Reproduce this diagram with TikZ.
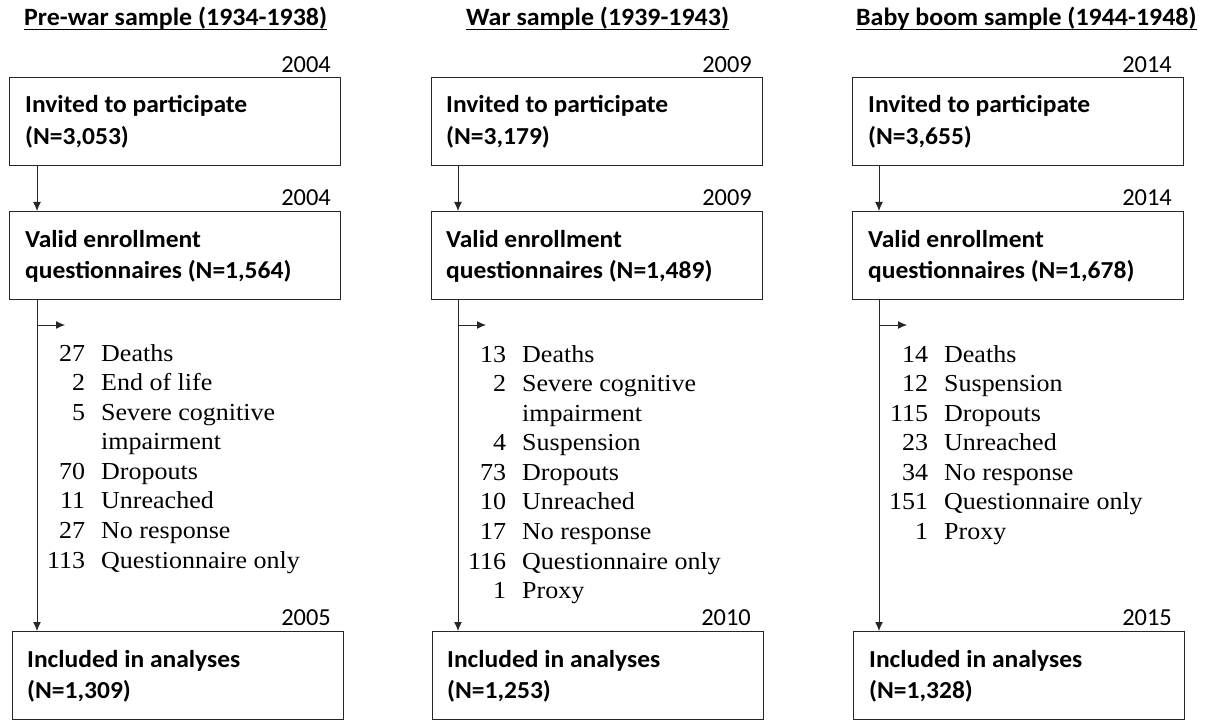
\documentclass[tikz,border=0pt]{standalone}
\usepackage{fontspec}
\setmainfont{Liberation Serif}[FakeStretch=1.065]
\newfontfamily\calfont{Carlito}
\newfontfamily\calboxfont{Carlito}[FakeStretch=1.045]
\newfontfamily\caltitlefont{Carlito}[FakeStretch=1.04]
\usetikzlibrary{arrows.meta}
\begin{document}
\begin{tikzpicture}[x=1bp,y=-1bp,
  box/.style={draw=black!85, line width=1bp, minimum width=331bp, minimum height=88bp, inner sep=0pt, anchor=north west},
  boxtext/.style={font=\calboxfont\bfseries\fontsize{24.5}{31.7}\selectfont, inner sep=0pt, anchor=base west},
  yeartext/.style={font=\calfont\fontsize{24.5}{28}\selectfont, inner sep=0pt, anchor=base east},
  titletext/.style={font=\caltitlefont\bfseries\fontsize{25}{28}\selectfont, inner sep=0pt, anchor=base west},
  listtext/.style={font=\fontsize{24.5}{29.7}\selectfont, inner sep=0pt, anchor=base west},
  uline/.style={line width=1.8bp, black},
  arr/.style={draw=black!85, line width=1bp, -{Latex[length=9bp,width=8bp]}}
]
\useasboundingbox (0,0) rectangle (1207,720);

% ---------- Column 1 ----------
\node[titletext] (t1) at (24,26) {Pre-war sample (1934-1938)};
\draw[uline] ([yshift=-3.5bp]t1.base west) -- ([yshift=-3.5bp]t1.base east);
\node[yeartext] (y1a) at (331,73) {2004};
\node[box] (b1a) at (9,77) {};
\node[boxtext] (x1a) at (25,113) {\begin{tabular}[t]{@{}l@{}}Invited to participate\\(N=3,053)\end{tabular}};
\node[yeartext] (y1b) at (331,206) {2004};
\node[box] (b1b) at (9,211) {};
\node[boxtext] (x1b) at (25,247) {\begin{tabular}[t]{@{}l@{}}Valid enrollment\\questionnaires (N=1,564)\end{tabular}};
\node[yeartext] (y1c) at (331,625) {2005};
\node[box] (b1c) at (12,631) {};
\node[boxtext] (x1c) at (27,667) {\begin{tabular}[t]{@{}l@{}}Included in analyses\\(N=1,309)\end{tabular}};
\coordinate (a1) at (37,0);
\coordinate (h1s) at (37,325);
\coordinate (h1e) at (65,325);
\node[listtext] (l1) at (47,361) {\begin{tabular}[t]{@{}r@{\hspace{16bp}}l@{}}
27 & Deaths\\ 2 & End of life\\ 5 & Severe cognitive\\ & impairment\\ 70 & Dropouts\\ 11 & Unreached\\ 27 & No response\\ 113 & Questionnaire only\end{tabular}};
\draw[arr] (b1a.south -| a1) -- (b1b.north -| a1);
\draw[arr] (b1b.south -| a1) -- (b1c.north -| a1);
\draw[arr] (h1s) -- (h1e);

% ---------- Column 2 ----------
\node[titletext] (t2) at (466,26) {War sample (1939-1943)};
\draw[uline] ([yshift=-3.5bp]t2.base west) -- ([yshift=-3.5bp]t2.base east);
\node[yeartext] (y2a) at (752,73) {2009};
\node[box] (b2a) at (431,77) {};
\node[boxtext] (x2a) at (446,113) {\begin{tabular}[t]{@{}l@{}}Invited to participate\\(N=3,179)\end{tabular}};
\node[yeartext] (y2b) at (752,206) {2009};
\node[box] (b2b) at (431,211) {};
\node[boxtext] (x2b) at (446,247) {\begin{tabular}[t]{@{}l@{}}Valid enrollment\\questionnaires (N=1,489)\end{tabular}};
\node[yeartext] (y2c) at (751,625) {2010};
\node[box] (b2c) at (432,631) {};
\node[boxtext] (x2c) at (447,667) {\begin{tabular}[t]{@{}l@{}}Included in analyses\\(N=1,253)\end{tabular}};
\coordinate (a2) at (458,0);
\coordinate (h2s) at (458,325);
\coordinate (h2e) at (486,325);
\node[listtext] (l2) at (468,362) {\begin{tabular}[t]{@{}r@{\hspace{16bp}}l@{}}
13 & Deaths\\ 2 & Severe cognitive\\ & impairment\\ 4 & Suspension\\ 73 & Dropouts\\ 10 & Unreached\\ 17 & No response\\ 116 & Questionnaire only\\ 1 & Proxy\end{tabular}};
\draw[arr] (b2a.south -| a2) -- (b2b.north -| a2);
\draw[arr] (b2b.south -| a2) -- (b2c.north -| a2);
\draw[arr] (h2s) -- (h2e);

% ---------- Column 3 ----------
\node[titletext] (t3) at (856,26) {Baby boom sample (1944-1948)};
\draw[uline] ([yshift=-3.5bp]t3.base west) -- ([yshift=-3.5bp]t3.base east);
\node[yeartext] (y3a) at (1172,73) {2014};
\node[box] (b3a) at (852,77) {};
\node[boxtext] (x3a) at (868,113) {\begin{tabular}[t]{@{}l@{}}Invited to participate\\(N=3,655)\end{tabular}};
\node[yeartext] (y3b) at (1172,206) {2014};
\node[box] (b3b) at (852,211) {};
\node[boxtext] (x3b) at (868,247) {\begin{tabular}[t]{@{}l@{}}Valid enrollment\\questionnaires (N=1,678)\end{tabular}};
\node[yeartext] (y3c) at (1172,625) {2015};
\node[box] (b3c) at (853,631) {};
\node[boxtext] (x3c) at (869,667) {\begin{tabular}[t]{@{}l@{}}Included in analyses\\(N=1,328)\end{tabular}};
\coordinate (a3) at (879,0);
\coordinate (h3s) at (879,325);
\coordinate (h3e) at (907,325);
\node[listtext] (l3) at (889,362) {\begin{tabular}[t]{@{}r@{\hspace{16bp}}l@{}}
14 & Deaths\\ 12 & Suspension\\ 115 & Dropouts\\ 23 & Unreached\\ 34 & No response\\ 151 & Questionnaire only\\ 1 & Proxy\end{tabular}};
\draw[arr] (b3a.south -| a3) -- (b3b.north -| a3);
\draw[arr] (b3b.south -| a3) -- (b3c.north -| a3);
\draw[arr] (h3s) -- (h3e);
\end{tikzpicture}
\end{document}
